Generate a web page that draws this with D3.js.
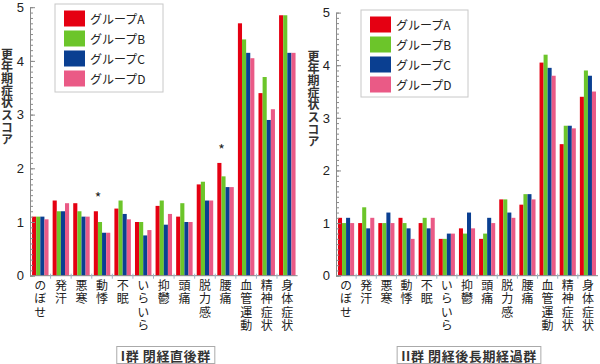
<!DOCTYPE html>
<html>
<head>
<meta charset="utf-8">
<script src="https://cdn.jsdelivr.net/npm/d3@7"></script>
<style>
	body { margin: 0; background: #fff; }
	text { font-family: "Noto Sans CJK JP", "Noto Sans", sans-serif; }
</style>
</head>
<body>
<div id="chart"></div>
<script>
const categories = ["のぼせ", "発汗", "悪寒", "動悸", "不眠", "いらいら", "抑鬱", "頭痛", "脱力感", "腰痛", "血管運動", "精神症状", "身体症状"]
const groupNames = ["グループA", "グループB", "グループC", "グループD"]
const groupColors = ["#e50012", "#6cc52a", "#0a3f91", "#ea5a86"]
const yTicks = [0, 1, 2, 3, 4, 5]

// I群 閉経直後群
const earlyA = [1.1, 1.4, 1.35, 1.2, 1.25, 1.0, 1.3, 1.1, 1.7, 2.1, 4.7, 3.4, 4.85]
const earlyB = [1.1, 1.2, 1.2, 1.0, 1.4, 1.0, 1.4, 1.35, 1.75, 1.85, 4.4, 3.7, 4.85]
const earlyC = [1.1, 1.2, 1.1, 0.8, 1.15, 0.75, 0.95, 1.0, 1.4, 1.65, 4.15, 2.9, 4.15]
const earlyD = [1.05, 1.35, 1.1, 0.8, 1.05, 0.85, 1.15, 1.0, 1.4, 1.65, 4.05, 3.1, 4.15]
const earlyStars = ["動悸", "腰痛"]

// II群 閉経後長期経過群
const lateA = [1.1, 1.0, 1.0, 1.1, 1.0, 0.7, 0.9, 0.7, 1.45, 1.35, 4.05, 2.5, 3.4]
const lateB = [1.0, 1.3, 1.0, 1.0, 1.1, 0.7, 0.8, 0.8, 1.45, 1.55, 4.2, 2.85, 3.9]
const lateC = [1.1, 0.9, 1.2, 0.9, 0.9, 0.8, 1.2, 1.1, 1.2, 1.55, 3.95, 2.85, 3.8]
const lateD = [1.0, 1.1, 1.0, 0.7, 1.1, 0.8, 0.9, 1.0, 1.1, 1.45, 3.8, 2.8, 3.5]
const lateStars = []

const panels = [
	{series: [earlyA, earlyB, earlyC, earlyD], stars: earlyStars, label: "I群 閉経直後群",
		left: 30, right: 297.6, top: 7.2, bottom: 275.7, titleX: 7, titleY: 48,
		legend: {x: 55, y: 4, w: 108, h: 88}},
	{series: [lateA, lateB, lateC, lateD], stars: lateStars, label: "II群 閉経後長期経過群",
		left: 336, right: 598, top: 12.6, bottom: 275.7, titleX: 313.5, titleY: 50,
		legend: {x: 361, y: 10, w: 107, h: 87}}
]

const svg = d3.select("#chart")
	.append("svg")
	.attr("width", 600)
	.attr("height", 364)

const drawPanel = (p) => {
	const g = svg.append("g")

	const x0 = d3.scaleBand()
		.domain(categories)
		.range([p.left, p.right])
		.paddingInner(0.2)
		.paddingOuter(0.1)
	const x1 = d3.scaleBand()
		.domain(d3.range(groupNames.length))
		.range([0, x0.bandwidth()])
	const y = d3.scaleLinear()
		.domain([0, 5])
		.range([p.bottom, p.top])

	// bars
	const rows = categories.map((c, i) => ({cat: c, vals: p.series.map(s => s[i])}))
	g.append("g")
		.selectAll("g")
		.data(rows)
		.join("g")
		.attr("transform", d => `translate(${x0(d.cat)},0)`)
		.selectAll("rect")
		.data(d => d.vals)
		.join("rect")
		.attr("x", (d, i) => x1(i))
		.attr("width", x1.bandwidth())
		.attr("y", d => y(d))
		.attr("height", d => y(0) - y(d))
		.attr("fill", (d, i) => groupColors[i])

	// significance marks
	g.append("g")
		.selectAll("text")
		.data(p.stars)
		.join("text")
		.attr("x", d => x0(d) + x1.bandwidth())
		.attr("y", d => y(d3.max(rows.find(r => r.cat == d).vals)) - 8)
		.attr("text-anchor", "middle")
		.attr("font-size", 14)
		.attr("fill", "#222")
		.text("*")

	// y axis: minor ticks every 0.1, then major
	g.append("g")
		.attr("transform", `translate(${p.left},0)`)
		.call(d3.axisLeft(y).tickValues(d3.range(0, 50.5, 1).map(v => v / 10)).tickSize(-3).tickFormat(""))
		.call(a => a.select(".domain").remove())
		.call(a => a.selectAll("line").attr("stroke", "#8a8a8a"))
	g.append("g")
		.attr("transform", `translate(${p.left},0)`)
		.call(d3.axisLeft(y).tickValues(yTicks).tickFormat(d3.format("d")).tickSizeInner(-5).tickSizeOuter(0).tickPadding(6))
		.call(a => a.select(".domain").attr("stroke", "#8a8a8a"))
		.call(a => a.selectAll("line").attr("stroke", "#8a8a8a"))
		.call(a => a.selectAll("text").attr("font-size", 13).attr("fill", "#222")
			.style("font-family", "'Liberation Sans', sans-serif"))

	// x axis line and separators between categories
	g.append("line")
		.attr("x1", p.left).attr("x2", p.right)
		.attr("y1", y(0)).attr("y2", y(0))
		.attr("stroke", "#8a8a8a")
	g.append("g")
		.selectAll("line")
		.data(categories.slice(1))
		.join("line")
		.attr("x1", d => x0(d) - x0.step() * x0.paddingInner() / 2)
		.attr("x2", d => x0(d) - x0.step() * x0.paddingInner() / 2)
		.attr("y1", y(0) - 2)
		.attr("y2", y(0) + 3)
		.attr("stroke", "#9fb3c8")

	// category labels, vertical
	g.append("g")
		.selectAll("text")
		.data(categories)
		.join("text")
		.attr("x", d => x0(d) + x0.bandwidth() / 2)
		.attr("y", p.bottom + 4)
		.style("writing-mode", "vertical-rl")
		.attr("font-size", 12)
		.attr("letter-spacing", 1.2)
		.attr("fill", "#222")
		.text(d => d)

	// y title
	g.append("text")
		.attr("x", p.titleX)
		.attr("y", p.titleY)
		.style("writing-mode", "vertical-rl")
		.attr("font-size", 12)
		.attr("font-weight", "bold")
		.attr("letter-spacing", 0.2)
		.attr("fill", "#333")
		.text("更年期症状スコア")

	// legend
	const L = p.legend
	g.append("rect")
		.attr("x", L.x).attr("y", L.y).attr("width", L.w).attr("height", L.h)
		.attr("fill", "#fff").attr("stroke", "#c8c8c8")
	const items = g.append("g")
		.selectAll("g")
		.data(groupNames)
		.join("g")
		.attr("transform", (d, i) => `translate(${L.x + 9},${L.y + 6.5 + i * 20})`)
	items.append("rect")
		.attr("width", 21).attr("height", 16)
		.attr("fill", (d, i) => groupColors[i])
	items.append("text")
		.attr("x", 26)
		.attr("y", 8)
		.attr("dominant-baseline", "central")
		.attr("font-size", 12)
		.attr("fill", "#222")
		.text(d => d)

	// group caption in a box
	const cx = (p.left + p.right) / 2 + 2
	const capG = g.append("g")
	const cap = capG.append("text")
		.attr("x", cx)
		.attr("y", 355)
		.attr("text-anchor", "middle")
		.attr("dominant-baseline", "central")
		.attr("font-size", 13)
		.attr("font-weight", "bold")
		.attr("letter-spacing", 0.6)
		.attr("fill", "#333")
		.text(p.label)
	const w = cap.node().getComputedTextLength()
	capG.insert("rect", "text")
		.attr("x", cx - w / 2 - 4)
		.attr("y", 346.5)
		.attr("width", w + 8)
		.attr("height", 17)
		.attr("fill", "none")
		.attr("stroke", "#aaa")
}

panels.forEach(drawPanel)
</script>
</body>
</html>
